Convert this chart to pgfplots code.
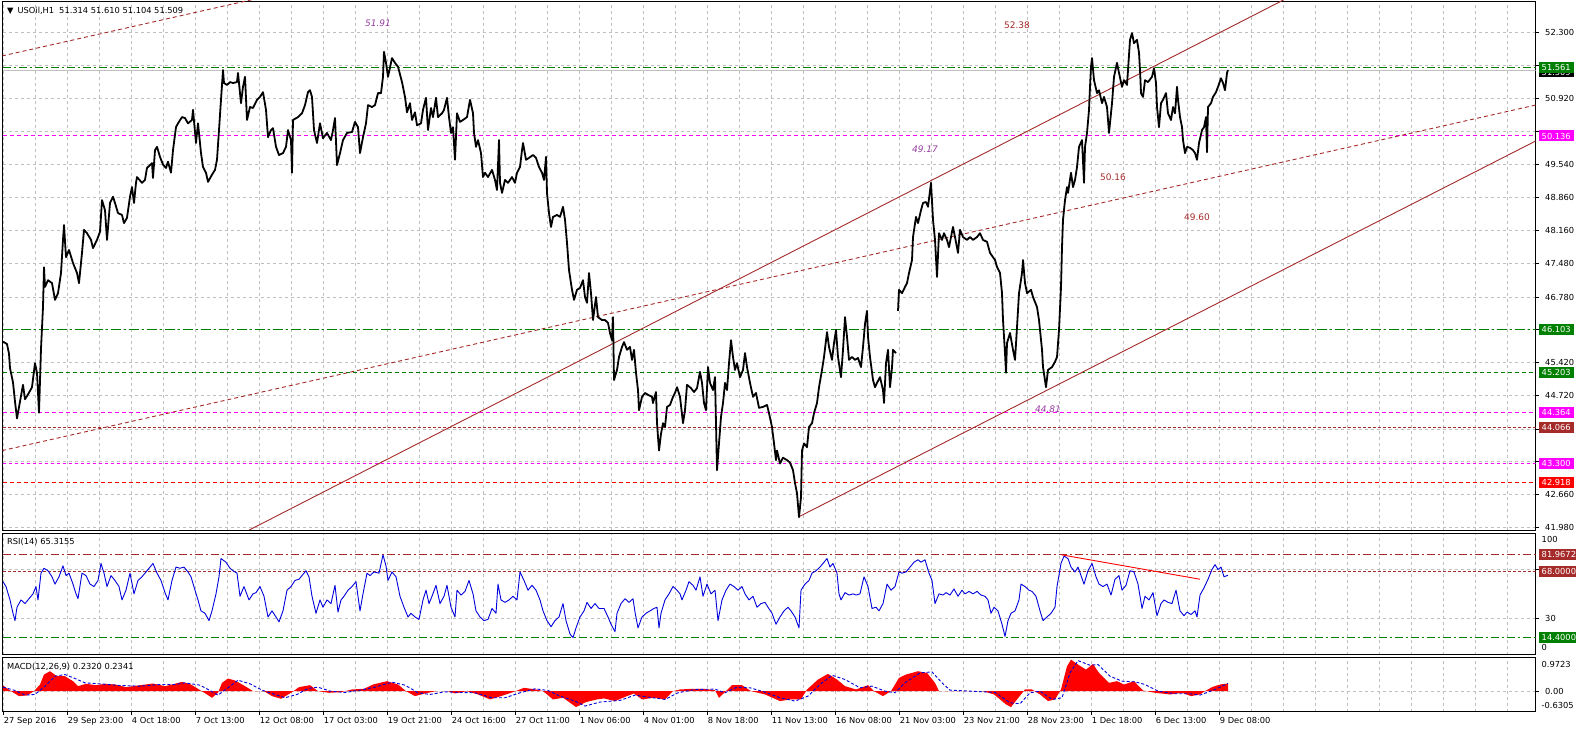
\documentclass[border=0pt]{standalone}
\usepackage{fontspec}
\setmainfont{DejaVu Sans}
\usepackage{pgfplots}
\pgfplotsset{compat=1.18}
\definecolor{mtgreen}{RGB}{0,128,0}
\definecolor{mtbrown}{RGB}{165,42,42}
\definecolor{mtmag}{RGB}{255,0,255}
\definecolor{mtred}{RGB}{255,0,0}
\definecolor{gridc}{RGB}{192,192,192}
\definecolor{rsiblue}{RGB}{0,0,220}
\definecolor{lblpurple}{RGB}{150,60,160}
\newcommand\lbl{\fontsize{8.3}{10}\selectfont}
\newcommand\ann{\fontsize{9}{11}\selectfont}
\tikzset{box/.style={anchor=west, xshift=2.8pt, fill=#1, text=white, font=\lbl, inner xsep=3.2pt, inner ysep=0pt, minimum height=11pt}}
\pgfplotsset{
 mtbase/.style={
  scale only axis, width=1533pt, xmin=2.5, xmax=1535.5,
  axis line style={line width=0.8pt},
  clip mode=individual,
  xtick={3.7,67.7,131.7,195.7,259.7,323.7,387.7,451.7,515.7,579.7,643.7,707.7,771.7,835.7,899.7,963.7,1027.7,1091.7,1155.7,1219.7},
  minor xtick={35.7,99.7,163.7,227.7,291.7,355.7,419.7,483.7,547.7,611.7,675.7,739.7,803.7,867.7,931.7,995.7,1059.7,1123.7,1187.7,1251.7,1283.7,1315.7,1347.7,1379.7,1411.7,1443.7,1475.7,1507.7},
  xmajorgrids, xminorgrids, ymajorgrids,
  major grid style={gridc, line width=0.8pt, dash pattern=on 3pt off 3pt},
  minor grid style={gridc, line width=0.8pt, dash pattern=on 3pt off 3pt},
  minor tick length=0pt,
  tick align=outside, major tick length=3.5pt,
  ytick pos=right, yticklabel pos=right, xtick pos=bottom,
  tick style={black, line width=0.8pt},
  ticklabel style={font=\lbl},
  yticklabel style={anchor=west, inner sep=0pt, xshift=6pt},
 },
}
\begin{document}
\begin{tikzpicture}[x=1pt,y=1pt]
\path[use as bounding box] (0,0) rectangle (1576,733);
% ================= MAIN PRICE PANEL =================
\begin{axis}[mtbase, at={(2.5pt,203pt)}, anchor=south west, height=529pt,
  ymin=41.924, ymax=52.950,
  xticklabels={}, xtick style={draw=none},
  ytick={52.3,51.61,50.92,50.23,49.54,48.86,48.16,47.48,46.78,46.10,45.42,44.72,44.03,43.35,42.66,41.98},
  yticklabels={52.300,,50.920,,49.540,48.860,48.160,47.480,46.780,,45.420,44.720,,,42.660,41.980}]
% horizontal levels
\addplot[gridc, line width=1pt] coordinates {(2.5,51.509) (1535.5,51.509)};
\addplot[mtgreen, line width=1pt, dash pattern=on 8pt off 3pt on 2pt off 3pt] coordinates {(2.5,51.561) (1535.5,51.561)};
\addplot[mtmag, line width=1pt, dash pattern=on 4pt off 3pt] coordinates {(2.5,50.136) (1535.5,50.136)};
\addplot[mtgreen, line width=1pt, dash pattern=on 10pt off 3pt on 2pt off 3pt] coordinates {(2.5,46.103) (1535.5,46.103)};
\addplot[mtgreen, line width=1pt, dash pattern=on 4pt off 3pt] coordinates {(2.5,45.203) (1535.5,45.203)};
\addplot[mtmag, line width=1pt, dash pattern=on 4pt off 3pt] coordinates {(2.5,44.364) (1535.5,44.364)};
\addplot[mtbrown, line width=1pt, dash pattern=on 3pt off 2pt] coordinates {(2.5,44.066) (1535.5,44.066)};
\addplot[mtmag, line width=1pt, dash pattern=on 3pt off 3pt] coordinates {(2.5,43.300) (1535.5,43.300)};
\addplot[mtred, line width=1pt, dash pattern=on 4pt off 3pt] coordinates {(2.5,42.918) (1535.5,42.918)};
% trend lines
\addplot[mtbrown, line width=0.9pt] coordinates {(245,41.878) (1285,52.988)};
\addplot[mtbrown, line width=0.9pt] coordinates {(799,42.201) (1540,50.078)};
\addplot[mtbrown, line width=0.9pt, dash pattern=on 4pt off 3pt] coordinates {(2,43.579) (1540,50.801)};
\addplot[mtbrown, line width=0.9pt, dash pattern=on 4pt off 3pt] coordinates {(2,51.804) (260,53.015)};
% price
\addplot[black, line width=1.8pt, line join=round] coordinates {
(3,45.85)(7,45.80)(9,45.60)(10,45.30)(13,45.00)(15,44.60)(17,44.25)(20,44.60)(23,44.95)(25,44.65)(28,44.75)(32,44.90)(35,45.40)(37,45.20)(39,44.37)(41,45.70)(43,46.57)(44,47.40)(45,46.99)(48,47.13)(52,47.07)(55,46.72)(58,46.86)(61,47.28)(63,47.97)(64,48.28)(66,47.61)(69,47.76)(73,47.49)(77,47.28)(79,47.07)(82,47.70)(84,48.18)(87,48.11)(91,47.97)(93,47.80)(97,47.97)(100,48.14)(102,48.80)(105,48.59)(107,47.97)(110,48.74)(113,48.87)(115,48.74)(118,48.53)(122,48.49)(124,48.32)(127,48.43)(130,48.87)(132,49.07)(134,48.74)(136,49.16)(137,49.28)(142,49.16)(145,49.22)(147,49.47)(152,49.57)(153,49.26)(155,49.84)(157,49.91)(160,49.70)(163,49.54)(166,49.47)(168,49.60)(171,49.37)(173,49.84)(176,50.32)(178,50.40)(182,50.53)(185,50.51)(188,50.40)(192,50.47)(193,50.68)(196,49.99)(198,50.40)(201,49.78)(203,49.49)(206,49.37)(208,49.18)(212,49.33)(215,49.43)(217,49.64)(219,50.26)(221,50.89)(223,51.51)(224,51.24)(227,51.20)(230,51.26)(233,51.24)(237,51.26)(238,51.45)(241,50.82)(243,51.16)(245,51.37)(247,50.47)(250,50.74)(253,50.72)(257,50.89)(260,50.95)(263,51.05)(266,50.68)(268,50.11)(271,50.26)(273,50.30)(276,49.91)(279,49.74)(283,49.78)(286,49.91)(288,50.26)(291,50.05)(292,49.37)(293,50.47)(298,50.53)(302,50.61)(305,50.78)(308,51.05)(310,51.09)(312,50.95)(314,50.26)(317,49.99)(320,50.40)(323,50.09)(327,50.20)(331,50.05)(333,50.26)(335,50.51)(337,49.53)(340,49.78)(343,50.05)(347,50.20)(352,50.22)(355,50.43)(358,50.32)(360,49.78)(363,50.11)(366,50.40)(368,50.78)(372,50.74)(375,50.78)(378,51.03)(381,51.03)(383,51.37)(384,51.89)(386,51.66)(388,51.37)(392,51.76)(395,51.66)(398,51.58)(402,51.26)(405,50.95)(407,50.63)(410,50.82)(412,50.47)(415,50.63)(417,50.36)(421,50.40)(423,50.68)(426,50.93)(428,50.26)(431,50.72)(433,50.53)(436,50.93)(438,50.53)(442,50.61)(444,50.68)(447,50.93)(449,50.53)(451,50.20)(453,50.32)(455,49.64)(457,50.61)(460,50.43)(463,50.47)(467,50.53)(470,50.89)(473,50.61)(474,50.20)(476,49.91)(478,50.05)(481,49.78)(483,49.28)(485,49.37)(488,49.28)(492,49.43)(495,49.22)(497,49.01)(499,50.05)(500,49.16)(502,48.95)(505,49.22)(508,49.16)(512,49.28)(515,49.16)(517,49.37)(520,49.49)(522,49.84)(523,49.99)(526,49.64)(529,49.68)(533,49.74)(536,49.68)(539,49.49)(542,49.37)(544,49.22)(546,49.70)(547,48.95)(549,48.53)(551,48.24)(553,48.45)(557,48.49)(560,48.45)(563,48.66)(565,48.39)(567,47.91)(569,47.34)(572,46.93)(574,46.72)(577,46.93)(580,46.97)(583,47.13)(585,46.78)(587,46.66)(589,47.28)(591,46.86)(593,46.30)(596,46.78)(598,46.36)(602,46.30)(605,46.30)(608,46.24)(610,46.03)(612,45.88)(613,46.36)(614,45.05)(617,45.26)(619,45.53)(622,45.74)(624,45.84)(627,45.68)(630,45.74)(632,45.47)(634,45.68)(636,45.20)(638,44.84)(639,44.42)(642,44.70)(645,44.78)(648,44.74)(652,44.70)(653,44.57)(656,44.80)(657,44.15)(659,43.58)(661,43.93)(663,44.15)(665,44.07)(667,44.49)(670,44.53)(673,44.70)(675,44.78)(677,44.90)(680,44.70)(683,44.15)(685,44.42)(687,44.95)(691,44.88)(694,44.80)(697,44.88)(700,45.22)(702,44.99)(704,44.57)(706,44.42)(708,45.32)(710,44.99)(713,44.84)(715,45.11)(717,43.17)(719,43.73)(721,44.28)(723,44.57)(725,44.99)(727,44.84)(729,45.40)(731,45.88)(733,45.53)(735,45.26)(737,45.40)(740,45.11)(743,45.26)(745,45.61)(747,45.32)(750,44.99)(753,44.70)(756,44.78)(759,44.47)(763,44.49)(767,44.53)(769,44.36)(772,44.07)(774,43.73)(776,43.38)(777,43.58)(780,43.31)(783,43.43)(787,43.38)(790,43.33)(793,43.17)(795,42.90)(797,42.69)(799,42.19)(801,42.61)(802,43.58)(804,43.73)(807,43.65)(809,44.07)(812,44.15)(814,44.36)(817,44.57)(819,44.90)(822,45.26)(824,45.53)(827,46.05)(829,45.74)(832,45.47)(834,45.82)(836,46.09)(838,45.53)(841,45.11)(843,45.68)(845,46.36)(847,45.95)(849,45.47)(852,45.53)(855,45.47)(858,45.51)(861,45.32)(863,45.74)(865,46.22)(867,46.49)(868,45.95)(870,45.53)(873,45.05)(875,44.90)(877,44.99)(880,45.11)(883,44.84)(884,44.57)(886,45.40)(888,45.68)(890,44.90)(892,45.32)(893,45.68)(896,45.61)};
\addplot[black, line width=1.8pt, line join=round] coordinates {
(898,46.49)(899,46.93)(902,46.86)(905,46.99)(907,47.07)(909,47.28)(912,47.55)(913,48.03)(916,48.45)(918,48.32)(921,48.59)(923,48.74)(926,48.76)(928,48.66)(931,49.16)(933,48.39)(935,47.97)(937,47.20)(939,48.11)(942,47.97)(944,48.11)(947,47.97)(949,47.82)(953,48.24)(955,48.03)(958,47.70)(960,48.18)(963,48.03)(967,47.97)(970,48.03)(973,47.97)(977,48.03)(980,48.11)(983,47.97)(987,47.93)(990,47.70)(993,47.61)(995,47.55)(997,47.41)(1000,47.28)(1002,46.86)(1003,46.30)(1005,45.61)(1006,45.20)(1007,45.82)(1010,46.03)(1013,45.68)(1015,45.47)(1017,46.15)(1019,46.86)(1022,47.28)(1023,47.55)(1025,47.07)(1027,46.86)(1031,46.93)(1033,46.78)(1037,46.57)(1039,46.30)(1042,45.68)(1043,45.32)(1046,44.90)(1048,45.26)(1052,45.32)(1055,45.43)(1057,45.53)(1059,46.09)(1061,46.99)(1062,47.82)(1063,48.39)(1065,48.80)(1067,49.07)(1068,48.95)(1071,49.37)(1073,49.07)(1075,49.22)(1077,49.49)(1079,49.91)(1082,50.05)(1084,49.16)(1085,49.91)(1087,50.20)(1089,50.68)(1090,51.16)(1091,51.58)(1092,51.76)(1094,51.30)(1097,51.03)(1099,51.09)(1102,50.82)(1104,50.95)(1107,50.74)(1109,50.20)(1112,50.82)(1114,51.37)(1117,51.66)(1119,51.45)(1122,51.16)(1124,51.30)(1127,51.20)(1128,51.51)(1130,52.14)(1132,52.28)(1134,52.07)(1137,52.14)(1139,51.87)(1140,51.51)(1141,51.03)(1143,50.95)(1145,51.30)(1148,51.26)(1152,51.37)(1154,51.55)(1156,51.24)(1157,50.74)(1159,50.32)(1161,50.82)(1163,50.89)(1166,51.03)(1168,50.61)(1171,50.47)(1173,50.74)(1175,50.61)(1177,51.16)(1178,50.89)(1180,50.53)(1182,50.32)(1183,50.05)(1185,49.78)(1187,49.91)(1190,49.89)(1193,49.84)(1195,49.78)(1197,49.64)(1199,49.99)(1202,50.26)(1204,50.32)(1206,50.53)(1207,49.80)(1208,50.74)(1211,50.82)(1213,50.95)(1216,51.05)(1218,51.16)(1221,51.34)(1223,51.24)(1225,51.09)(1227,51.45)(1228,51.51)};
% annotations
\node[anchor=west, font=\lbl, inner sep=0pt] at (axis cs:7,52.742) {▼\hspace{4pt}USOil,H1\hspace{5pt}51.314 51.610 51.104 51.509};
\node[font=\ann\itshape, text=lblpurple] at (axis cs:378,52.49) {51.91};
\node[font=\ann, text=mtbrown] at (axis cs:1017,52.45) {52.38};
\node[font=\ann\itshape, text=lblpurple] at (axis cs:925,49.865) {49.17};
\node[font=\ann, text=mtbrown] at (axis cs:1113,49.282) {50.16};
\node[font=\ann, text=mtbrown] at (axis cs:1197,48.448) {49.60};
\node[font=\ann\itshape, text=lblpurple] at (axis cs:1048,44.446) {44.81};
% price boxes
\node[box=black] at (axis cs:1535.5,51.470) {51.509};
\node[box=mtgreen] at (axis cs:1535.5,51.561) {51.561};
\node[box=mtmag] at (axis cs:1535.5,50.136) {50.136};
\node[box=mtgreen] at (axis cs:1535.5,46.103) {46.103};
\node[box=mtgreen] at (axis cs:1535.5,45.203) {45.203};
\node[box=mtmag] at (axis cs:1535.5,44.364) {44.364};
\node[box=mtbrown] at (axis cs:1535.5,44.066) {44.066};
\node[box=mtmag] at (axis cs:1535.5,43.300) {43.300};
\node[box=mtred] at (axis cs:1535.5,42.918) {42.918};
\end{axis}
% ================= RSI PANEL =================
\begin{axis}[mtbase, at={(2.5pt,78.3pt)}, anchor=south west, height=121.7pt,
  ymin=0, ymax=100,
  xticklabels={}, xtick style={draw=none},
  ytick={30,70}, yticklabels={30,}]
\addplot[mtbrown, line width=1pt, dash pattern=on 8pt off 3pt on 2pt off 3pt] coordinates {(2.5,81.9672) (1535.5,81.9672)};
\addplot[mtbrown, line width=1pt, dash pattern=on 3pt off 2pt] coordinates {(2.5,68) (1535.5,68)};
\addplot[mtgreen, line width=1pt, dash pattern=on 8pt off 3pt on 2pt off 3pt] coordinates {(2.5,14.4) (1535.5,14.4)};
\addplot[rsiblue, line width=0.9pt, line join=round] coordinates {
(3,60)(6,56)(10,45)(13,34)(15,28)(17,39)(21,45)(25,42)(29,46)(33,50)(36,56)(38,45)(41,67)(44,71)(48,69)(52,64)(55,58)(59,64)(63,73)(66,65)(69,67)(73,58)(76,50)(78,46)(82,67)(86,65)(90,58)(94,56)(98,61)(101,75)(104,67)(107,56)(111,65)(115,61)(119,56)(122,45)(126,53)(130,67)(134,50)(138,61)(142,64)(145,67)(150,72)(153,75)(157,67)(161,61)(165,51)(168,45)(172,61)(176,72)(180,71)(184,72)(188,68)(191,64)(195,53)(198,45)(201,36)(205,34)(209,28)(212,36)(216,50)(219,64)(221,79)(226,76)(230,71)(233,69)(237,67)(240,48)(244,56)(249,45)(253,50)(256,51)(260,56)(264,48)(268,31)(272,36)(276,31)(279,27)(283,36)(287,53)(291,56)(295,61)(299,62)(302,65)(306,69)(309,64)(312,48)(316,34)(320,45)(323,39)(327,45)(331,42)(335,57)(338,35)(341,45)(344,48)(348,53)(352,56)(356,60)(360,36)(363,50)(367,67)(370,65)(374,68)(379,67)(383,82)(386,73)(388,61)(392,68)(396,64)(400,48)(404,39)(408,31)(411,34)(415,31)(419,29)(423,45)(426,53)(429,42)(432,48)(436,57)(440,42)(444,48)(447,57)(451,39)(455,31)(457,53)(461,49)(465,52)(469,61)(473,50)(476,36)(480,31)(484,28)(488,29)(492,38)(496,34)(498,58)(501,45)(505,43)(509,45)(513,48)(517,45)(520,68)(524,61)(528,53)(532,57)(536,53)(540,45)(543,36)(547,28)(551,23)(555,28)(559,31)(563,42)(566,28)(570,17)(573,14)(576,22)(580,31)(584,36)(587,43)(591,38)(595,42)(599,38)(604,38)(608,31)(611,25)(615,19)(617,34)(621,42)(625,46)(629,43)(633,46)(635,35)(638,22)(642,31)(646,34)(650,36)(654,38)(657,39)(659,22)(661,34)(665,45)(669,50)(673,56)(677,53)(680,50)(682,45)(686,53)(689,60)(693,57)(696,53)(700,64)(703,48)(707,58)(711,50)(715,53)(718,28)(722,45)(726,53)(730,58)(734,56)(738,53)(742,56)(745,50)(749,45)(753,48)(757,39)(761,42)(765,43)(768,39)(772,34)(776,25)(780,31)(784,36)(788,39)(791,36)(795,31)(799,22)(801,53)(805,58)(809,61)(812,67)(816,69)(820,72)(824,76)(827,79)(830,72)(833,75)(837,67)(839,50)(841,45)(845,51)(849,49)(853,50)(856,49)(860,50)(864,64)(868,56)(872,38)(876,39)(879,36)(883,42)(887,58)(891,53)(895,56)(899,68)(902,67)(906,68)(910,72)(914,76)(918,78)(921,76)(925,78)(929,67)(932,61)(935,42)(939,50)(943,49)(946,51)(950,49)(954,54)(958,48)(962,53)(965,50)(969,52)(973,50)(977,52)(981,49)(985,48)(988,45)(991,34)(994,39)(998,36)(1002,25)(1005,15)(1008,28)(1011,34)(1015,36)(1019,45)(1021,58)(1025,56)(1029,53)(1032,52)(1036,48)(1040,36)(1043,28)(1047,31)(1051,34)(1055,39)(1057,56)(1061,75)(1064,81)(1068,79)(1071,72)(1075,68)(1078,72)(1081,65)(1084,58)(1088,69)(1092,75)(1096,64)(1099,58)(1103,56)(1107,58)(1111,49)(1115,62)(1119,65)(1122,53)(1126,57)(1130,69)(1134,68)(1138,58)(1142,38)(1145,48)(1149,45)(1153,51)(1157,32)(1161,42)(1164,45)(1168,43)(1172,42)(1176,53)(1180,36)(1184,32)(1187,35)(1191,33)(1195,36)(1197,31)(1200,49)(1204,55)(1208,62)(1212,70)(1215,74)(1218,70)(1221,72)(1224,64)(1228,65.3)};
\addplot[mtred, line width=0.9pt] coordinates {(1062,82) (1200,62)};
\node[anchor=west, font=\lbl, inner sep=0pt] at (axis cs:7,93) {RSI(14) 65.3155};
\node[anchor=west, font=\lbl, inner sep=0pt, xshift=6pt] at (axis cs:1535.5,94.8) {100};
\node[anchor=west, font=\lbl, inner sep=0pt, xshift=6pt] at (axis cs:1535.5,5.75) {0};
\node[box=mtbrown] at (axis cs:1535.5,81.9672) {81.9672};
\node[box=mtbrown] at (axis cs:1535.5,68) {68.0000};
\node[box=mtgreen] at (axis cs:1535.5,14.4) {14.4000};
\end{axis}
% ================= MACD PANEL =================
\begin{axis}[mtbase, at={(2.5pt,21.3pt)}, anchor=south west, height=54.4pt,
  ymin=-0.62, ymax=1.02,
  xticklabels={27 Sep 2016,29 Sep 23:00,4 Oct 18:00,7 Oct 13:00,12 Oct 08:00,17 Oct 03:00,19 Oct 21:00,24 Oct 16:00,27 Oct 11:00,1 Nov 06:00,4 Nov 01:00,8 Nov 18:00,11 Nov 13:00,16 Nov 08:00,21 Nov 03:00,23 Nov 21:00,28 Nov 23:00,1 Dec 18:00,6 Dec 13:00,9 Dec 08:00},
  xticklabel style={anchor=north west, inner sep=0pt, yshift=-2pt},
  ytick={0}, yticklabels={0.00}]
\addplot[fill=mtred, draw=none] coordinates {
(3,0.17)(11,0.0)(19,-0.15)(27,-0.13)(34,0.0)(40,0.2)(44,0.5)(50,0.6)(57,0.45)(65,0.45)(73,0.30)(78,0.15)(86,0.22)(96,0.18)(105,0.22)(115,0.20)(126,0.12)(138,0.17)(153,0.23)(165,0.15)(172,0.20)(182,0.28)(191,0.20)(199,0.05)(207,-0.10)(212,-0.20)(218,-0.05)(222,0.25)(228,0.38)(235,0.32)(245,0.15)(253,0.0)(264,0.0)(272,-0.15)(281,-0.23)(291,-0.05)(299,0.12)(310,0.18)(318,0.0)(329,-0.05)(341,-0.03)(352,0.05)(364,0.07)(373,0.2)(387,0.30)(398,0.2)(406,0.0)(415,-0.15)(425,-0.07)(436,0.0)(448,0.0)(455,-0.07)(467,0.0)(478,-0.10)(490,-0.25)(501,-0.15)(513,-0.03)(524,0.10)(536,0.05)(543,0.0)(553,-0.25)(563,-0.20)(570,-0.35)(576,-0.48)(586,-0.33)(597,-0.25)(604,-0.22)(615,-0.30)(627,-0.15)(634,-0.07)(642,-0.25)(654,-0.20)(665,-0.25)(673,0)(680,0.05)(692,0.07)(703,0.07)(715,0.03)(719,-0.20)(726,0)(732,0.18)(742,0.18)(751,0)(765,-0.10)(780,-0.30)(791,-0.25)(801,-0.25)(807,0.05)(818,0.35)(828,0.52)(837,0.35)(845,0.15)(856,0.05)(868,0.18)(874,0)(883,-0.15)(891,0)(899,0.40)(906,0.50)(918,0.60)(927,0.55)(935,0.25)(939,0)(960,0)(983,0)(994,-0.10)(1006,-0.40)(1011,-0.48)(1017,-0.25)(1025,0.05)(1032,0.05)(1040,-0.10)(1048,-0.30)(1055,-0.25)(1061,0.05)(1067,0.75)(1071,0.95)(1078,0.80)(1086,0.65)(1093,0.82)(1099,0.55)(1109,0.25)(1117,0.30)(1124,0.20)(1134,0.30)(1143,0.02)(1155,-0.05)(1170,-0.10)(1182,-0.05)(1191,-0.15)(1200,-0.10)(1205,0.0)(1212,0.12)(1220,0.20)(1228,0.232)} \closedcycle;
\addplot[rsiblue, line width=0.9pt, dash pattern=on 3pt off 2pt] coordinates {
(3,0.12)(15,0.02)(25,-0.12)(35,-0.10)(45,0.15)(55,0.45)(65,0.50)(75,0.38)(85,0.25)(100,0.22)(120,0.17)(140,0.15)(160,0.20)(175,0.20)(185,0.25)(200,0.18)(210,0.02)(218,-0.12)(228,0.10)(238,0.33)(250,0.22)(262,0.03)(275,-0.10)(285,-0.20)(297,-0.10)(308,0.08)(318,0.12)(330,0.0)(345,-0.04)(360,0.03)(375,0.12)(392,0.27)(405,0.18)(418,-0.05)(430,-0.10)(445,-0.02)(460,-0.04)(475,-0.05)(492,-0.20)(505,-0.20)(520,-0.05)(535,0.07)(548,0.02)(560,-0.15)(575,-0.30)(585,-0.45)(600,-0.33)(620,-0.28)(635,-0.12)(648,-0.18)(665,-0.25)(678,-0.05)(695,0.05)(715,0.06)(725,-0.05)(737,0.12)(750,0.10)(765,-0.03)(780,-0.20)(795,-0.30)(808,-0.15)(820,0.20)(832,0.48)(845,0.35)(860,0.10)(872,0.15)(885,0.0)(895,-0.05)(905,0.25)(920,0.55)(932,0.58)(942,0.25)(950,0.03)(970,0.0)(995,-0.04)(1010,-0.35)(1020,-0.38)(1030,-0.05)(1040,0.0)(1052,-0.25)(1062,-0.20)(1070,0.55)(1078,0.92)(1090,0.78)(1098,0.80)(1110,0.45)(1122,0.30)(1135,0.28)(1145,0.20)(1158,0.0)(1175,-0.08)(1190,-0.08)(1200,-0.12)(1215,0.05)(1228,0.234)};
\node[anchor=west, font=\lbl, inner sep=0pt] at (axis cs:7,0.736) {MACD(12,26,9) 0.2320 0.2341};
\node[anchor=west, font=\lbl, inner sep=0pt, xshift=6pt] at (axis cs:1535.5,0.808) {0.9723};
\node[anchor=west, font=\lbl, inner sep=0pt, xshift=6pt] at (axis cs:1535.5,-0.419) {-0.6305};
\end{axis}
\end{tikzpicture}
\end{document}
